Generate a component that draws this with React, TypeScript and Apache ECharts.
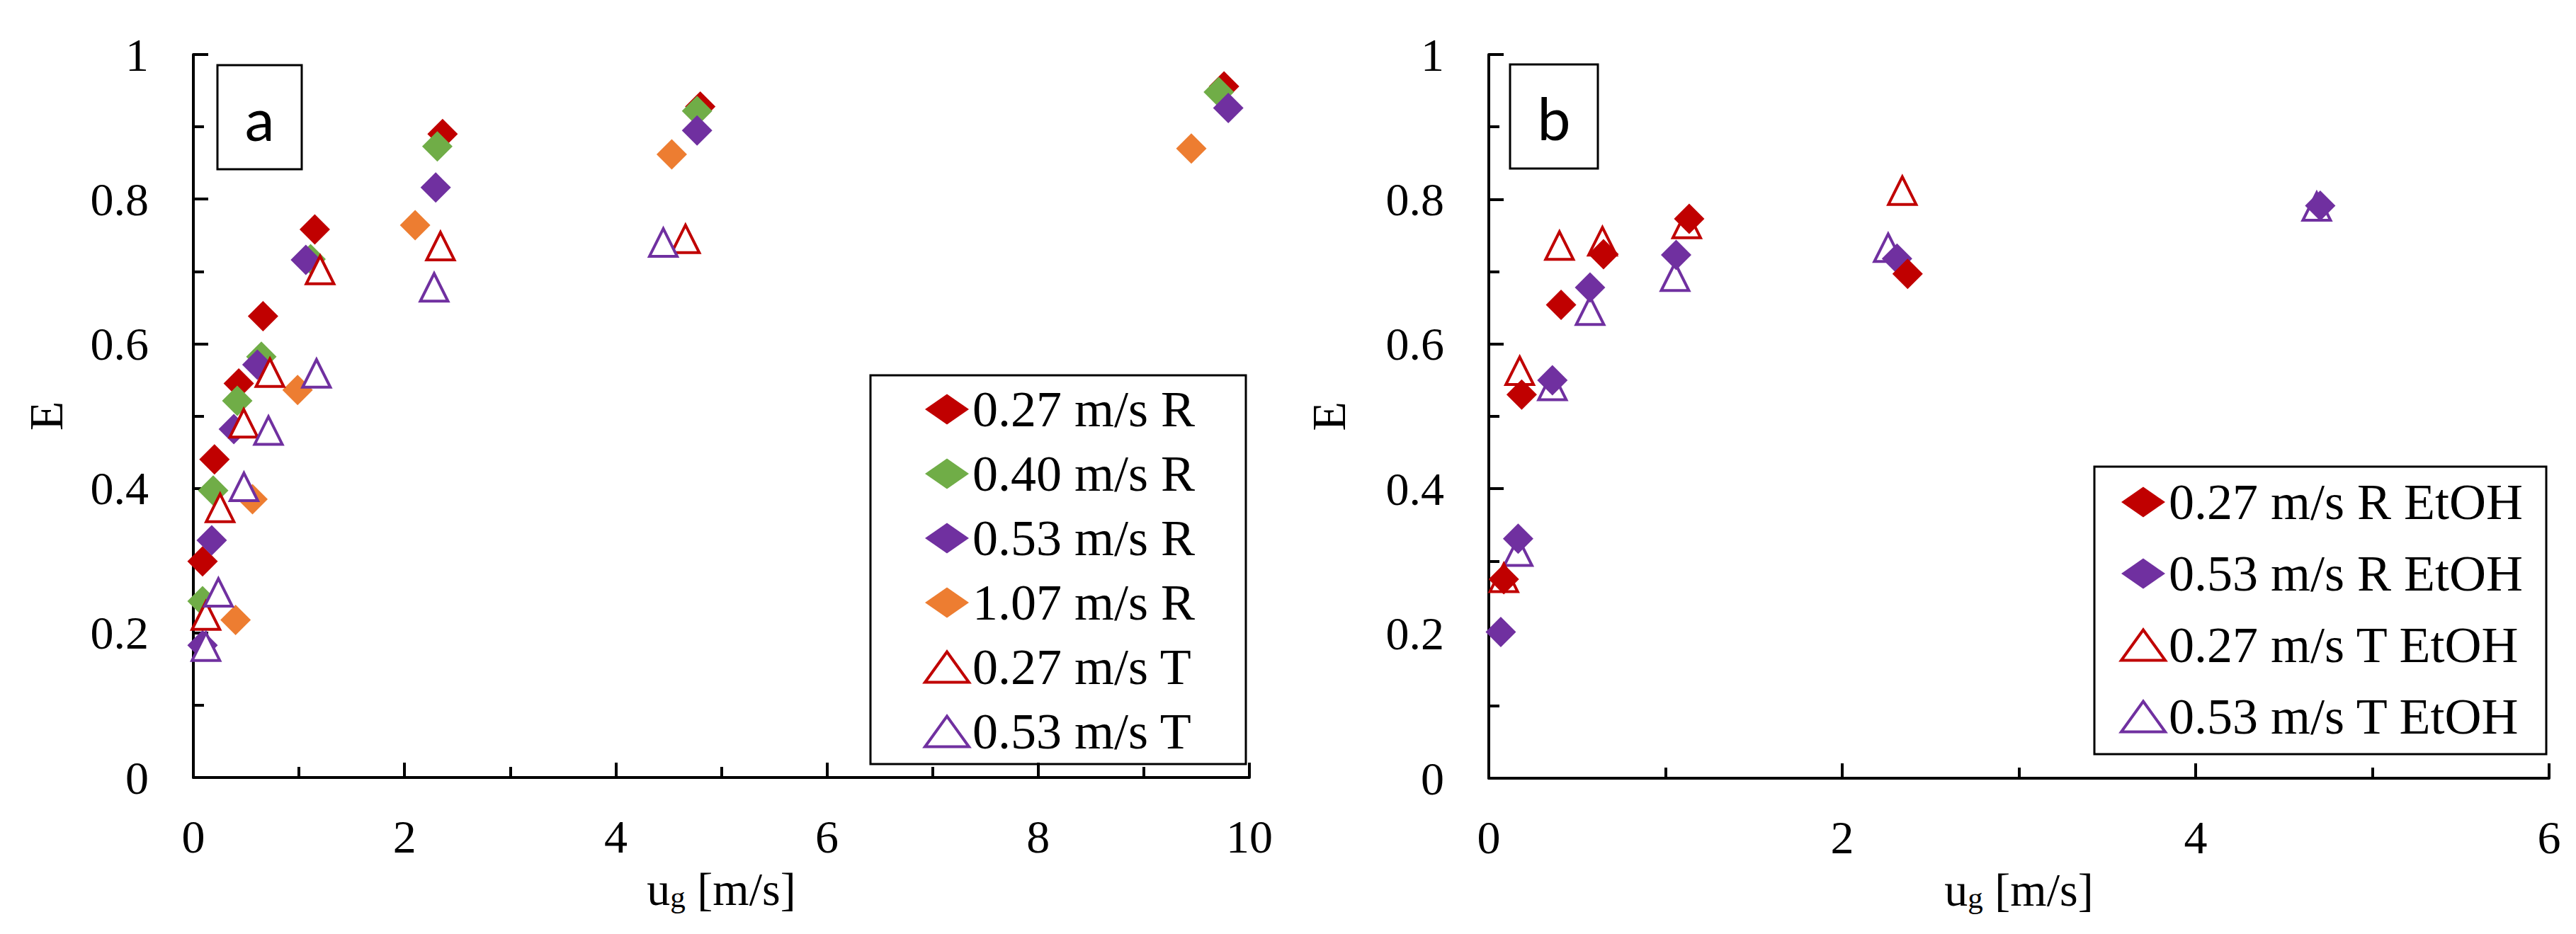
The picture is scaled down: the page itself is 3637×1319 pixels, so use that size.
import React, { useEffect, useRef } from "react";
import * as echarts from "echarts";

// ---- Data (left panel a) ----
const aRed027R = [[0.087, 0.299], [0.20, 0.440], [0.43, 0.545], [0.66, 0.638], [1.15, 0.758], [2.36, 0.890], [4.80, 0.928], [9.76, 0.956]];
const aGreen040R = [[0.087, 0.244], [0.188, 0.397], [0.416, 0.521], [0.644, 0.582], [1.11, 0.717], [2.31, 0.873], [4.77, 0.922], [9.71, 0.948]];
const aPurple053R = [[0.087, 0.183], [0.174, 0.328], [0.383, 0.482], [0.606, 0.571], [1.065, 0.716], [2.295, 0.816], [4.77, 0.895], [9.80, 0.926]];
const aOrange107R = [[0.40, 0.218], [0.56, 0.385], [0.987, 0.536], [2.10, 0.764], [4.53, 0.862], [9.45, 0.870]];
const aRed027T = [[0.119, 0.224], [0.253, 0.373], [0.477, 0.490], [0.725, 0.560], [1.20, 0.702], [2.34, 0.735], [4.66, 0.745]];
const aPurple053T = [[0.119, 0.181], [0.237, 0.256], [0.479, 0.402], [0.711, 0.480], [1.166, 0.559], [2.28, 0.678], [4.45, 0.740]];

// ---- Data (right panel b) ----
const bRed027R = [[0.085, 0.275], [0.186, 0.530], [0.409, 0.654], [0.649, 0.724], [1.134, 0.773], [2.37, 0.697]];
const bPurple053R = [[0.068, 0.202], [0.166, 0.331], [0.36, 0.550], [0.573, 0.678], [1.06, 0.723], [2.31, 0.718], [4.705, 0.791]];
const bRed027T = [[0.085, 0.277], [0.175, 0.563], [0.40, 0.736], [0.643, 0.742], [1.12, 0.766], [2.34, 0.812]];
const bPurple053T = [[0.166, 0.313], [0.36, 0.542], [0.573, 0.646], [1.054, 0.693], [2.26, 0.733], [4.685, 0.790]];

const namesA = ["0.27 m/s R", "0.40 m/s R", "0.53 m/s R", "1.07 m/s R", "0.27 m/s T", "0.53 m/s T"];
const namesB = ["0.27 m/s R EtOH", "0.53 m/s R EtOH", "0.27 m/s T EtOH", "0.53 m/s T EtOH"];
const panelLabels = ["a", "b"];

const RED = "#C00000";
const GREEN = "#70AD47";
const PURPLE = "#7030A0";
const ORANGE = "#ED7D31";
const SERIF = "'Liberation Serif', 'Times New Roman', serif";

export default function App() {
  const ref = useRef<HTMLDivElement>(null);
  useEffect(() => {
    if (!ref.current) return;
    const chart = echarts.init(ref.current, null, { renderer: "svg" });

    const axisLine = { show: true, onZero: false, lineStyle: { color: "#000", width: 4 } };
    const axisTick = { show: true, inside: true, length: 21, lineStyle: { color: "#000", width: 4 } };
    const minorTick = { show: true, splitNumber: 2, length: 15, lineStyle: { color: "#000", width: 4 } };
    const axisLabelX = { color: "#000", fontSize: 66, fontFamily: SERIF, margin: 50 };
    const axisLabelY = { color: "#000", fontSize: 66, fontFamily: SERIF, margin: 63 };
    const xName = "{u|u}{g|g}{u| [m/s]}";
    const xNameStyle = {
      color: "#000",
      fontFamily: SERIF,
      fontSize: 66,
      rich: {
        u: { fontSize: 66, fontFamily: SERIF, color: "#000", lineHeight: 66, verticalAlign: "middle" },
        g: { fontSize: 43, fontFamily: SERIF, color: "#000", lineHeight: 30, verticalAlign: "bottom" },
      },
    };
    const yNameStyle = { color: "#000", fontFamily: SERIF, fontSize: 68 };

    const diamond = (name: string, data: number[][], color: string, idx: number, z: number) => ({
      type: "scatter",
      name,
      data,
      xAxisIndex: idx,
      yAxisIndex: idx,
      symbol: "diamond",
      symbolSize: 43,
      itemStyle: { color, opacity: 1 },
      z,
      emphasis: { disabled: true },
    });
    const triangle = (name: string, data: number[][], color: string, idx: number, z: number) => ({
      type: "scatter",
      name,
      data,
      xAxisIndex: idx,
      yAxisIndex: idx,
      symbol: "triangle",
      symbolSize: 39,
      itemStyle: { color: "#fff", borderColor: color, borderWidth: 4, opacity: 1 },
      z,
      emphasis: { disabled: true },
    });

    const legendText = { color: "#000", fontSize: 72, fontFamily: SERIF };
    const legItem = (name: string, icon: string, color: string) =>
      icon === "diamond"
        ? { name, icon: "diamond", itemStyle: { color, borderWidth: 0 } }
        : { name, icon: "triangle", itemStyle: { color: "#fff", borderColor: color, borderWidth: 4 } };

    const option: any = {
      animation: false,
      backgroundColor: "#fff",
      grid: [
        { left: 273, top: 77, width: 1491, height: 1021 },
        { left: 2102, top: 77, width: 1497, height: 1022 },
      ],
      xAxis: [
        {
          gridIndex: 0, type: "value", min: 0, max: 10, interval: 2,
          axisLine, axisTick, minorTick, axisLabel: axisLabelX, splitLine: { show: false },
          name: xName, nameLocation: "middle", nameGap: 124, nameTextStyle: xNameStyle,
        },
        {
          gridIndex: 1, type: "value", min: 0, max: 6, interval: 2,
          axisLine, axisTick, minorTick, axisLabel: axisLabelX, splitLine: { show: false },
          name: xName, nameLocation: "middle", nameGap: 124, nameTextStyle: xNameStyle,
        },
      ],
      yAxis: [
        {
          gridIndex: 0, type: "value", min: 0, max: 1, interval: 0.2,
          axisLine, axisTick, minorTick, axisLabel: axisLabelY, splitLine: { show: false },
          name: "E", nameLocation: "middle", nameGap: 174, nameTextStyle: yNameStyle,
        },
        {
          gridIndex: 1, type: "value", min: 0, max: 1, interval: 0.2,
          axisLine, axisTick, minorTick, axisLabel: axisLabelY, splitLine: { show: false },
          name: "E", nameLocation: "middle", nameGap: 192, nameTextStyle: yNameStyle,
        },
      ],
      legend: [
        {
          orient: "vertical", left: 1304, top: 542, padding: 0,
          itemWidth: 62, itemHeight: 43, itemGap: 19, symbolKeepAspect: true,
          selectedMode: false, textStyle: legendText,
          data: [
            legItem(namesA[0], "diamond", RED),
            legItem(namesA[1], "diamond", GREEN),
            legItem(namesA[2], "diamond", PURPLE),
            legItem(namesA[3], "diamond", ORANGE),
            legItem(namesA[4], "triangle", RED),
            legItem(namesA[5], "triangle", PURPLE),
          ],
        },
        {
          orient: "vertical", left: 2993, top: 673, padding: 0,
          itemWidth: 62, itemHeight: 43, itemGap: 29, symbolKeepAspect: true,
          selectedMode: false, textStyle: legendText,
          data: [
            legItem(namesB[0], "diamond", RED),
            legItem(namesB[1], "diamond", PURPLE),
            legItem(namesB[2], "triangle", RED),
            legItem(namesB[3], "triangle", PURPLE),
          ],
        },
      ],
      graphic: [
        { type: "rect", shape: { x: 307, y: 92, width: 119, height: 147 }, style: { fill: "#fff", stroke: "#000", lineWidth: 3 }, z: 10 },
        { type: "text", x: 366.5, y: 166, style: { text: panelLabels[0], fontSize: 84, fontFamily: "Lato, 'Open Sans', sans-serif", fill: "#000", textAlign: "center", textVerticalAlign: "middle", align: "center", verticalAlign: "middle" }, z: 11 },
        { type: "rect", shape: { x: 2132, y: 91, width: 124, height: 147 }, style: { fill: "#fff", stroke: "#000", lineWidth: 3 }, z: 10 },
        { type: "text", x: 2194, y: 165, style: { text: panelLabels[1], fontSize: 84, fontFamily: "Lato, 'Open Sans', sans-serif", fill: "#000", textAlign: "center", textVerticalAlign: "middle", align: "center", verticalAlign: "middle" }, z: 11 },
        { type: "rect", shape: { x: 1229, y: 530, width: 530, height: 549 }, style: { fill: "none", stroke: "#000", lineWidth: 3 }, z: 10 },
        { type: "rect", shape: { x: 2957, y: 659, width: 638, height: 406 }, style: { fill: "none", stroke: "#000", lineWidth: 3 }, z: 10 },
      ],
      series: [
        diamond(namesA[0], aRed027R, RED, 0, 2),
        diamond(namesA[1], aGreen040R, GREEN, 0, 2),
        diamond(namesA[2], aPurple053R, PURPLE, 0, 2),
        diamond(namesA[3], aOrange107R, ORANGE, 0, 2),
        triangle(namesA[4], aRed027T, RED, 0, 2),
        triangle(namesA[5], aPurple053T, PURPLE, 0, 2),
        triangle(namesB[3], bPurple053T, PURPLE, 1, 2),
        triangle(namesB[2], bRed027T, RED, 1, 2),
        diamond(namesB[1], bPurple053R, PURPLE, 1, 3),
        diamond(namesB[0], bRed027R, RED, 1, 4),
      ],
    };
    chart.setOption(option);
    return () => chart.dispose();
  }, []);
  return (
    <div
      ref={ref}
      style={{ position: "absolute", left: 0, top: 0, width: 3637, height: 1319, background: "#fff" }}
    />
  );
}
